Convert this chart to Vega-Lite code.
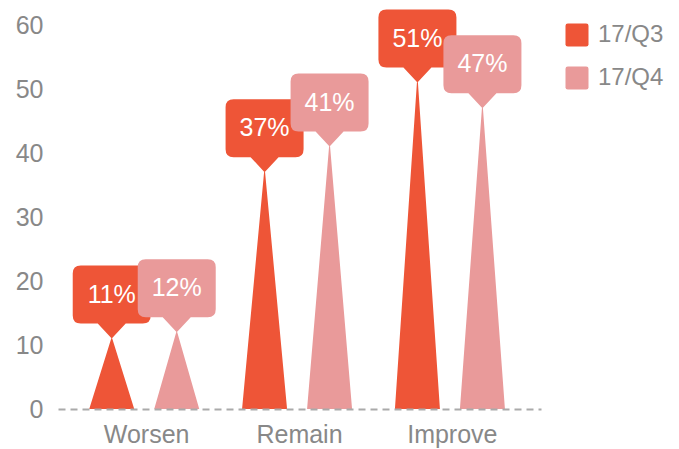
{
  "$schema": "https://vega.github.io/schema/vega-lite/v6.json",
  "width": 483,
  "height": 384,
  "autosize": {"type": "none"},
  "padding": {"left": 58, "top": 25, "right": 138, "bottom": 40},
  "background": "#ffffff",
  "config": {
    "view": {"stroke": null},
    "font": "Liberation Sans",
    "axis": {"labelFont": "Liberation Sans", "labelColor": "#888888", "labelFontSize": 25, "grid": false, "ticks": false, "tickSize": 0, "title": null},
    "legend": {"labelFont": "Liberation Sans", "labelColor": "#888888", "labelFontSize": 24}
  },
  "data": {
    "values": [
      {"cat": "Worsen", "period": "17/Q3", "value": 11},
      {"cat": "Remain", "period": "17/Q3", "value": 37},
      {"cat": "Improve", "period": "17/Q3", "value": 51},
      {"cat": "Worsen", "period": "17/Q4", "value": 12},
      {"cat": "Remain", "period": "17/Q4", "value": 41},
      {"cat": "Improve", "period": "17/Q4", "value": 47}
    ]
  },
  "encoding": {
    "x": {
      "field": "cat", "type": "nominal", "sort": ["Worsen", "Remain", "Improve"],
      "scale": {"paddingInner": 0, "paddingOuter": 0.08},
      "axis": {"labelAngle": 0, "labelPadding": 13, "domain": true, "domainColor": "#aaaaaa", "domainWidth": 2, "domainDash": [7, 5], "zindex": 1}
    },
    "xOffset": {
      "field": "period", "type": "nominal", "sort": ["17/Q3", "17/Q4"],
      "scale": {"range": [41.5, 106.5], "paddingInner": 0, "paddingOuter": 0}
    },
    "color": {
      "field": "period", "type": "nominal",
      "scale": {"domain": ["17/Q3", "17/Q4"], "range": ["#EE5537", "#E99A9A"]},
      "legend": {
        "title": null, "orient": "none", "legendX": 507, "legendY": -2, "padding": 0,
        "symbolType": "M-1,-0.8 Q-1,-1 -0.8,-1 L0.8,-1 Q1,-1 1,-0.8 L1,0.8 Q1,1 0.8,1 L-0.8,1 Q-1,1 -1,0.8 Z",
        "symbolSize": 529, "symbolStrokeWidth": 0, "symbolOpacity": 1, "labelOffset": 9, "rowPadding": 19
      }
    }
  },
  "layer": [
    {
      "transform": [
        {"calculate": "0", "as": "base"},
        {"fold": ["base", "value"], "as": ["end", "y"]}
      ],
      "mark": {"type": "trail", "clip": true, "opacity": 1},
      "encoding": {
        "y": {
          "field": "y", "type": "quantitative",
          "scale": {"domain": [0, 60], "nice": false},
          "axis": {"values": [0, 10, 20, 30, 40, 50, 60], "domain": false, "labelPadding": 15}
        },
        "size": {"field": "end", "type": "ordinal", "scale": {"domain": ["base", "value"], "range": [45, 0]}, "legend": null},
        "detail": {"field": "cat"},
        "order": {"field": "end"}
      }
    },
    {
      "mark": {
        "type": "point", "filled": true, "opacity": 1, "strokeWidth": 0, "size": 4,
        "shape": "M0,0 L-14,-15 L-31,-15 Q-39,-15 -39,-23 L-39,-65 Q-39,-73 -31,-73 L31,-73 Q39,-73 39,-65 L39,-23 Q39,-15 31,-15 L14,-15 Z"
      },
      "encoding": {
        "y": {"field": "value", "type": "quantitative"}
      }
    },
    {
      "transform": [{"calculate": "datum.value + '%'", "as": "label"}],
      "mark": {"type": "text", "fontSize": 25, "baseline": "middle", "align": "center", "dy": -44},
      "encoding": {
        "y": {"field": "value", "type": "quantitative"},
        "text": {"field": "label", "type": "nominal"},
        "color": {"value": "#ffffff"}
      }
    }
  ]
}
